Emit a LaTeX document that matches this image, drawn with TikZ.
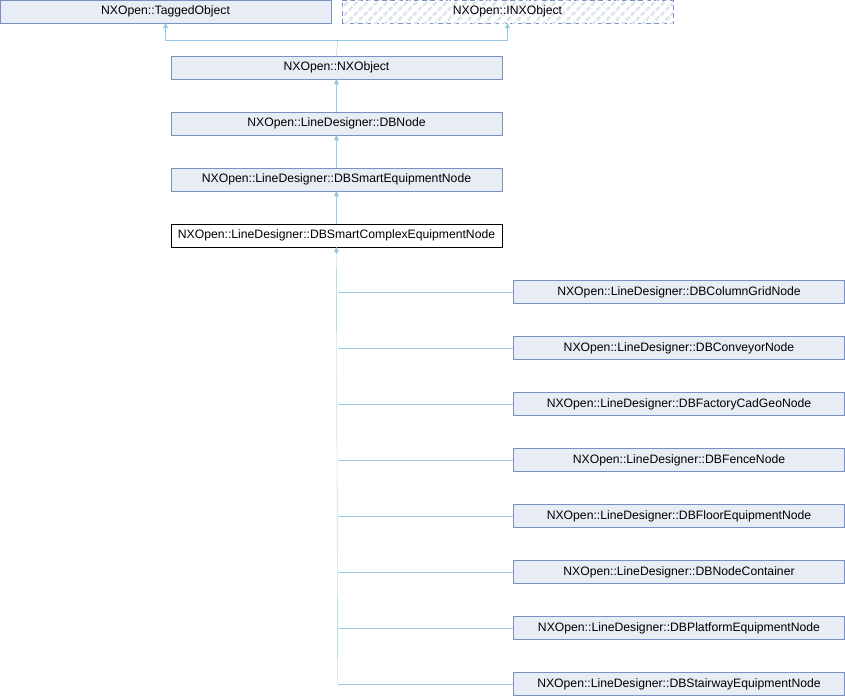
\documentclass[tikz,border=0pt]{standalone}
\usepackage{fontspec}
\setmainfont{Liberation Sans}
\usetikzlibrary{arrows.meta,patterns.meta}
\definecolor{boxFill}{RGB}{232,236,245}
\definecolor{boxLine}{RGB}{124,145,194}
\definecolor{inhLine}{RGB}{147,201,231}
\definecolor{hatchCol}{RGB}{222,228,240}

\begin{document}
\begin{tikzpicture}[x=1pt,y=-1pt,
		classBox/.style={draw=boxLine, fill=boxFill, minimum width=331pt, minimum height=23pt, inner sep=0pt, font=\fontsize{12.2}{14}\selectfont},
		inh/.style={draw=inhLine, -{Triangle[open, fill=inhLine, length=5pt, width=5pt]}}]
			\useasboundingbox (0,0) rectangle (845,696);
			
			% base classes
			\node[classBox] (taggedObject) at (165.5,11.5) {NXOpen::TaggedObject};
			\node[classBox, dash pattern=on 5pt off 3pt, fill=white, postaction={pattern={Lines[angle=45, distance=7pt, line width=2.5pt]}, pattern color=hatchCol}] (inxObject) at (507.5,11.5) {NXOpen::INXObject};
			\node[classBox] (nxObject) at (336.5,67.5) {NXOpen::NXObject};
			\node[classBox] (dbNode) at (336.5,123.5) {NXOpen::LineDesigner::DBNode};
			\node[classBox] (smartNode) at (336.5,179.5) {NXOpen::LineDesigner::DBSmartEquipmentNode};
			\node[classBox, draw=black, fill=white] (complexNode) at (336.5,235.5) {NXOpen::LineDesigner::DBSmartComplexEquipmentNode};
			
			\coordinate (joinTop) at (337.5,40);
			\draw[inhLine] (nxObject.north) -- (joinTop);
			\draw[inh] (joinTop) -| (taggedObject.south);
			\draw[inh] (joinTop) -| (inxObject.south);
			\draw[inh] (dbNode) -- (nxObject);
			\draw[inh] (smartNode) -- (dbNode);
			\draw[inh] (complexNode) -- (smartNode);
			\draw[inh] (complexNode.south) ++(0,7) -- (complexNode.south);
			
			% derived classes
			\foreach \name [count=\i] in {DBColumnGridNode,DBConveyorNode,DBFactoryCadGeoNode,DBFenceNode,DBFloorEquipmentNode,DBNodeContainer,DBPlatformEquipmentNode,DBStairwayEquipmentNode}{
				\node[classBox] (child\i) at (679,236+56*\i) {NXOpen::LineDesigner::\name};
				\draw[inhLine] (child\i.west) -- (337.5,236+56*\i);
			}
			\draw[inhLine] (complexNode.south) -- (337.5,684);
		\end{tikzpicture}
\end{document}
